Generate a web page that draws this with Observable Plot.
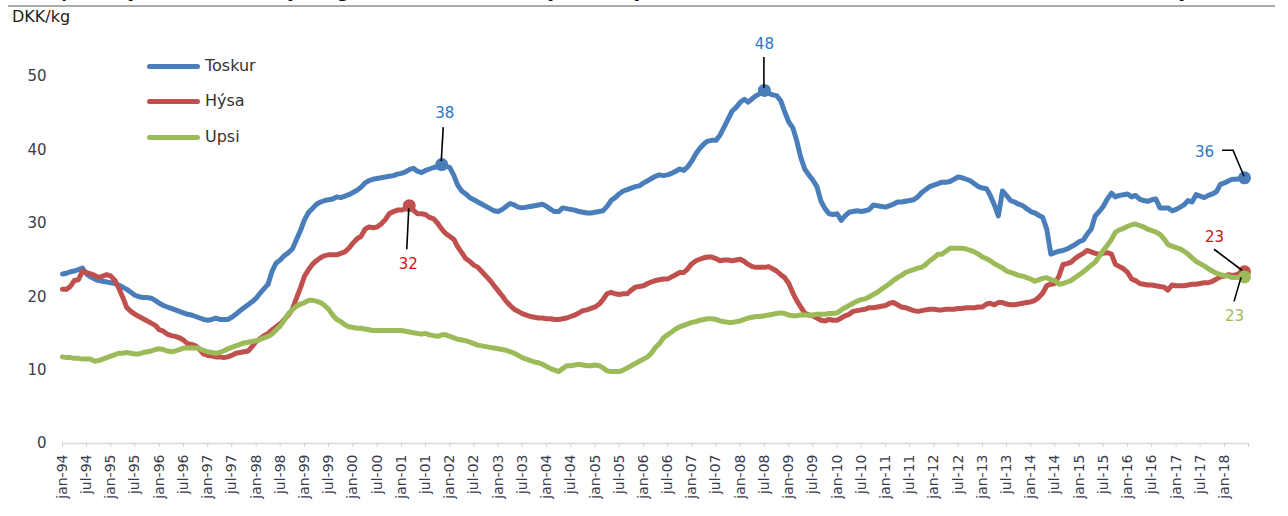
<!DOCTYPE html>
<html>
<head>
<meta charset="utf-8">
<script src="https://cdn.jsdelivr.net/npm/d3@7"></script>
<script src="https://cdn.jsdelivr.net/npm/@observablehq/plot@0.6"></script>
<style>
  body { margin: 0; background: #fff; font-family: "DejaVu Sans", Verdana, sans-serif; }
  #wrap { position: relative; width: 1288px; height: 516px; overflow: hidden; }
  #title { position: absolute; left: 8px; top: -17px; width: 1250px; font: italic bold 16px "DejaVu Sans", sans-serif; line-height: 19px; color: #111; white-space: nowrap; }
  #title .r { position: absolute; right: 0; top: 0; }
  #rule { position: absolute; left: 8px; top: 5px; width: 1267px; height: 2px; background: #aaa; }
  #unit { position: absolute; left: 12px; top: 7px; font: 16px "DejaVu Sans", sans-serif; color: #222; }
  #legend { position: absolute; left: 147px; top: 0; }
  .li { position: absolute; left: 0; width: 200px; height: 20px; }
  .sw { position: absolute; left: 0; top: 8px; width: 53px; height: 5px; border-radius: 3px; }
  .lt { position: absolute; left: 58px; top: 0; font: 16px "DejaVu Sans", sans-serif; color: #333; line-height: 20px; }
</style>
</head>
<body>
<div id="wrap">
  <div id="chart"></div>
  <div id="title">Landaprísur fyri botnfisk í Føroyum, glíðandi 12 mðr. miðal, jan-94 til jun-18<span class="r">Mynd 1.20</span></div>
  <div id="rule"></div>
  <div id="unit">DKK/kg</div>
  <div id="legend"></div>
</div>
<script>
// ---- Data: monthly values, jan-94 .. jun-18 (DKK/kg) ----
const seriesNames = ["Toskur", "Hýsa", "Upsi"];
const seriesColors = ["#4A7EBB", "#C0504D", "#9BBB59"];
const labelColors = ["#1F78C8", "#D01414", "#9BBB59"];

const toskur = [
  23.1, 23.2, 23.4, 23.5, 23.7, 23.9, 23.1, 22.7, 22.4, 22.2, 22.1, 22.0,
  21.9, 21.8, 21.6, 21.3, 21.0, 20.6, 20.2, 20.0, 19.9, 19.9, 19.8, 19.5,
  19.1, 18.8, 18.6, 18.4, 18.2, 18.0, 17.8, 17.6, 17.5, 17.3, 17.1, 16.9,
  16.8, 16.9, 17.1, 16.9, 16.9, 16.9, 17.2, 17.6, 18.1, 18.5, 18.9, 19.3,
  19.8, 20.5, 21.1, 21.7, 23.5, 24.6, 25.0, 25.6, 26.0, 26.5, 27.8, 29.0,
  30.5, 31.5, 32.0, 32.6, 32.9, 33.1, 33.2, 33.3, 33.6, 33.5, 33.7, 33.9,
  34.2, 34.5, 34.9, 35.5, 35.8, 36.0, 36.1, 36.2, 36.3, 36.4, 36.5, 36.7,
  36.8, 37.0, 37.3, 37.5, 37.1, 36.9, 37.2, 37.4, 37.6, 37.7, 38.0, 37.8,
  37.6, 36.5, 35.2, 34.4, 34.0, 33.5, 33.2, 32.9, 32.6, 32.3, 32.0, 31.7,
  31.6, 31.9, 32.3, 32.7, 32.5, 32.2, 32.1, 32.2, 32.3, 32.4, 32.5, 32.6,
  32.3, 31.9, 31.6, 31.6, 32.1, 32.0, 31.9, 31.8, 31.6, 31.5, 31.4, 31.4,
  31.5, 31.6, 31.7, 32.3, 33.1, 33.5, 34.0, 34.4, 34.6, 34.8, 35.0, 35.1,
  35.5, 35.8, 36.1, 36.4, 36.6, 36.5, 36.6, 36.8, 37.1, 37.4, 37.2, 37.7,
  38.5, 39.5, 40.2, 40.8, 41.2, 41.3, 41.3, 42.0, 43.1, 44.2, 45.3, 45.8,
  46.5, 46.9, 46.5, 47.0, 47.4, 47.7, 48.1, 47.7, 47.5, 47.4, 46.7, 45.2,
  43.8, 43.0, 41.3, 39.0, 37.4, 36.6, 35.9, 35.0, 33.0, 32.0, 31.3, 31.2,
  31.3, 30.4, 31.0, 31.5, 31.6, 31.7, 31.6, 31.7, 31.9, 32.5, 32.4, 32.3,
  32.2, 32.4, 32.6, 32.9, 32.9, 33.0, 33.1, 33.2, 33.6, 34.2, 34.6, 35.0,
  35.2, 35.4, 35.6, 35.6, 35.7, 36.0, 36.3, 36.2, 36.0, 35.8, 35.4, 35.0,
  34.8, 34.7, 33.8, 32.5, 31.0, 34.4, 33.8, 33.1, 32.9, 32.6, 32.4, 32.0,
  31.6, 31.4, 31.1, 30.8, 29.2, 25.8, 26.0, 26.2, 26.3, 26.5, 26.8, 27.1,
  27.5, 27.7, 28.5, 29.2, 31.0, 31.6, 32.3, 33.3, 34.1, 33.6, 33.8, 33.9,
  34.0, 33.6, 33.8, 33.3, 33.1, 33.0, 33.2, 33.3, 32.1, 32.1, 32.1, 31.7,
  31.9, 32.2, 32.5, 33.1, 32.9, 33.9, 33.7, 33.5, 33.8, 34.0, 34.3, 35.3,
  35.5, 35.8, 36.0, 36.0, 36.1, 36.2
];

const hysa = [
  21.0, 21.0, 21.4, 22.2, 22.3, 23.5, 23.3, 23.1, 22.9, 22.6, 22.8, 23.0,
  22.8, 22.2, 21.2, 19.9, 18.5, 18.0, 17.6, 17.3, 17.0, 16.7, 16.4, 16.1,
  15.5, 15.3, 14.9, 14.7, 14.6, 14.4, 14.1, 13.6, 13.5, 13.3, 12.8, 12.2,
  12.0, 11.9, 11.8, 11.8, 11.7, 11.8, 12.0, 12.3, 12.4, 12.5, 12.6, 13.2,
  13.9, 14.3, 14.7, 15.0, 15.5, 15.9, 16.3, 16.9, 17.5, 18.3, 19.8, 21.2,
  22.8, 23.7, 24.4, 24.9, 25.3, 25.6, 25.7, 25.7, 25.7, 25.9, 26.1, 26.6,
  27.3, 27.9, 28.2, 29.2, 29.5, 29.4, 29.5, 29.9, 30.5, 31.3, 31.6, 31.8,
  31.8, 32.0, 32.4, 31.8, 31.3, 31.3, 31.2, 30.8, 30.6, 30.0, 29.2, 28.6,
  28.2, 27.8, 26.8, 26.0, 25.2, 24.8, 24.3, 24.0, 23.4, 22.8, 22.2, 21.5,
  20.8, 20.1, 19.4, 18.8, 18.3, 18.0, 17.7, 17.5, 17.3, 17.2, 17.1, 17.1,
  17.0, 17.0, 16.9, 16.9, 17.0, 17.1, 17.3, 17.5, 17.8, 18.1, 18.2, 18.4,
  18.6, 19.0, 19.6, 20.4, 20.6, 20.4, 20.3, 20.4, 20.4, 20.9, 21.3, 21.4,
  21.5, 21.8, 22.0, 22.2, 22.3, 22.4, 22.4, 22.7, 23.0, 23.3, 23.3, 23.8,
  24.5, 24.9, 25.1, 25.3, 25.4, 25.4, 25.2, 24.9, 25.0, 25.0, 24.9, 25.0,
  25.1, 24.8, 24.4, 24.1, 24.0, 24.0, 24.0, 24.1, 23.8, 23.5, 23.0, 22.6,
  21.8, 20.5, 19.5, 18.6, 17.8, 17.5, 17.4, 17.1, 16.8, 16.7, 16.9, 16.8,
  16.8, 17.1, 17.4, 17.6, 18.0, 18.1, 18.2, 18.3, 18.5, 18.5, 18.6, 18.7,
  18.8, 19.1, 19.2, 18.9, 18.6, 18.5, 18.3, 18.1, 18.0, 18.1, 18.2, 18.3,
  18.3, 18.2, 18.2, 18.3, 18.3, 18.3, 18.4, 18.4, 18.5, 18.5, 18.5, 18.6,
  18.6, 19.0, 19.1, 18.9, 19.2, 19.2, 19.0, 18.9, 18.9, 19.0, 19.1, 19.2,
  19.3, 19.5, 19.9, 20.5, 21.5, 21.7, 21.8, 22.8, 24.4, 24.5, 24.7, 25.2,
  25.6, 25.9, 26.3, 26.1, 25.9, 25.8, 25.9, 26.0, 25.8, 24.4, 24.1, 23.8,
  23.3, 22.4, 22.2, 21.8, 21.7, 21.6, 21.6, 21.5, 21.4, 21.3, 20.9, 21.6,
  21.5, 21.5, 21.5, 21.6, 21.7, 21.7, 21.8, 21.9, 21.9, 22.1, 22.4, 22.7,
  22.8, 23.0, 22.9, 23.0, 23.2, 23.4
];

const upsi = [
  11.8, 11.7, 11.7, 11.6, 11.6, 11.5, 11.5, 11.5, 11.2, 11.3, 11.5, 11.7,
  11.9, 12.1, 12.3, 12.3, 12.4, 12.3, 12.2, 12.2, 12.4, 12.5, 12.6, 12.8,
  12.9, 12.8, 12.6, 12.5, 12.6, 12.8, 13.0, 13.0, 13.0, 13.0, 12.9, 12.7,
  12.5, 12.4, 12.3, 12.4, 12.6, 12.9, 13.1, 13.3, 13.5, 13.7, 13.8, 13.9,
  14.0, 14.2, 14.4, 14.6, 14.9, 15.5, 16.0, 16.8, 17.7, 18.2, 18.7, 19.0,
  19.2, 19.5, 19.5, 19.4, 19.2, 18.8, 18.3, 17.5, 16.9, 16.6, 16.2, 15.9,
  15.8, 15.7, 15.7, 15.6, 15.5, 15.4, 15.4, 15.4, 15.4, 15.4, 15.4, 15.4,
  15.4, 15.3, 15.2, 15.1, 15.0, 14.9, 15.0, 14.8, 14.7, 14.6, 14.8, 14.8,
  14.6, 14.4, 14.2, 14.1, 14.0, 13.8, 13.6, 13.4, 13.3, 13.2, 13.1, 13.0,
  12.9, 12.8, 12.7, 12.5, 12.3, 12.0, 11.7, 11.5, 11.3, 11.1, 11.0, 10.8,
  10.5, 10.2, 10.0, 9.8, 10.2, 10.6, 10.6, 10.7, 10.8, 10.7, 10.6, 10.6,
  10.7, 10.6, 10.3, 9.9, 9.8, 9.8, 9.8, 10.0, 10.3, 10.6, 10.9, 11.2,
  11.5, 11.8, 12.3, 13.1, 13.6, 14.4, 14.8, 15.2, 15.6, 15.9, 16.1, 16.3,
  16.5, 16.6, 16.8, 16.9, 17.0, 17.0, 16.9, 16.7, 16.6, 16.5, 16.5, 16.6,
  16.7, 16.9, 17.1, 17.2, 17.3, 17.3, 17.4, 17.5, 17.6, 17.7, 17.8, 17.7,
  17.5, 17.4, 17.4, 17.5, 17.5, 17.5, 17.5, 17.6, 17.6, 17.6, 17.7, 17.7,
  17.8, 18.2, 18.5, 18.8, 19.1, 19.4, 19.6, 19.7, 20.0, 20.3, 20.6, 21.0,
  21.4, 21.8, 22.2, 22.6, 22.9, 23.3, 23.5, 23.7, 23.9, 24.0, 24.4, 24.9,
  25.3, 25.8, 25.8, 26.2, 26.6, 26.6, 26.6, 26.6, 26.5, 26.3, 26.1, 25.8,
  25.4, 25.2, 24.9, 24.5, 24.2, 23.9, 23.5, 23.3, 23.1, 22.9, 22.8, 22.6,
  22.4, 22.1, 22.3, 22.5, 22.6, 22.3, 22.2, 21.7, 21.8, 22.0, 22.2, 22.6,
  23.0, 23.4, 23.8, 24.3, 24.7, 25.5, 26.3, 27.0, 27.8, 28.8, 29.1, 29.3,
  29.6, 29.8, 29.9, 29.7, 29.5, 29.2, 29.0, 28.8, 28.5, 27.9, 27.1, 26.9,
  26.7, 26.5, 26.2, 25.8, 25.3, 24.8, 24.5, 24.2, 23.8, 23.5, 23.2, 23.0,
  22.9, 22.8, 22.6, 22.6, 22.7, 22.7
];

const yTicks = [0, 10, 20, 30, 40, 50];
const monthNames = ["jan", "jul"];

// Annotated points: series index and month index (from jan-94)
const annoSeries = [0, 1, 0, 0, 1, 2];
const annoMonth = [94, 86, 174, 293, 293, 293];

// ---- Build tables ----
const allSeries = [toskur, hysa, upsi];
const monthDate = i => new Date(Date.UTC(1994, i, 1));
const rows = allSeries.map((vals, s) => vals.map((v, i) => ({date: monthDate(i), value: v, series: seriesNames[s]})));
const labelTicks = d3.range(0, 49).map(k => monthDate(6 * k));   // jan-94 .. jan-18
const markTicks = d3.range(0, 50).map(k => monthDate(6 * k));    // incl. jul-18
const fmt = d => monthNames[d.getUTCMonth() / 6] + "-" + String(d.getUTCFullYear() % 100).padStart(2, "0");

const annos = annoSeries.map((s, k) => {
  const v = allSeries[s][annoMonth[k]];
  return {date: monthDate(annoMonth[k]), value: v, label: String(Math.round(v)), s};
});

// styling offsets for annotation labels / leader lines (pixels)
const labelOffsets = [[3, -51], [-1, 59], [0, -46], [-40, -26], [-30, -35], [-10, 39]];
const leaderOffsets = [
  [[2, -37], [0, -3]],
  [[0, 3], [-2, 44]],
  [[0, -33], [0, -2]],
  [[-22, -27], [-11, -27], [0, -1]],
  [[-30, -22], [-2, -1]],
  [[-10, 25], [-3, 1]]
];

const marks = [
  Plot.ruleY([0], {stroke: "#d9d9d9", strokeWidth: 1.5}),
  Plot.axisX({ticks: markTicks, tickSize: 4, tickFormat: () => "", stroke: "#d0d0d0", label: null}),
  Plot.axisX({ticks: labelTicks, tickSize: 0, tickPadding: 11, tickRotate: -90, tickFormat: fmt, fontSize: 14, fill: "#3b3b4b", label: null}),
  Plot.axisY({ticks: yTicks, tickSize: 0, tickPadding: 16, fontSize: 15, fill: "#3b3b4b", label: null})
];
rows.forEach((data, s) => {
  marks.push(Plot.lineY(data, {x: "date", y: "value", stroke: seriesColors[s], strokeWidth: 5, strokeLinejoin: "round", strokeLinecap: "round"}));
  const pts = annos.filter(a => a.s === s);
  marks.push(Plot.dot(pts, {x: "date", y: "value", r: 6.5, fill: seriesColors[s]}));
});
annos.forEach((a, k) => {
  marks.push(Plot.text([a], {x: "date", y: "value", text: "label", dx: labelOffsets[k][0], dy: labelOffsets[k][1],
    fill: labelColors[a.s], fontSize: 15}));
});

const plot = Plot.plot({
  width: 1288,
  height: 516,
  marginLeft: 62,
  marginRight: 40,
  marginTop: 76,
  marginBottom: 73,
  style: {fontFamily: "DejaVu Sans, Verdana, sans-serif", fontSize: "14px", background: "transparent", color: "#3b3b4b"},
  x: {type: "utc", domain: [monthDate(0), monthDate(294)], range: [62, 1248], label: null},
  y: {domain: [0, 50], range: [443, 76], label: null},
  marks
});
document.getElementById("chart").appendChild(plot);

// leader lines drawn through the plot's own scales
const xs = plot.scale("x"), ys = plot.scale("y");
const svg = d3.select(plot.tagName === "svg" ? plot : plot.querySelector("svg"));
annos.forEach((a, k) => {
  const px = xs.apply(a.date), py = ys.apply(a.value);
  const pts = leaderOffsets[k].map(([dx, dy]) => [px + dx, py + dy]);
  svg.append("path").attr("d", d3.line()(pts)).attr("fill", "none").attr("stroke", "#000").attr("stroke-width", 1.6);
});

// legend
const legend = document.getElementById("legend");
const legendTops = [56, 91, 127];
seriesNames.forEach((n, s) => {
  const li = document.createElement("div");
  li.className = "li";
  li.style.top = legendTops[s] + "px";
  li.innerHTML = `<div class="sw" style="background:${seriesColors[s]}"></div><div class="lt">${n}</div>`;
  legend.appendChild(li);
});
</script>
</body>
</html>
